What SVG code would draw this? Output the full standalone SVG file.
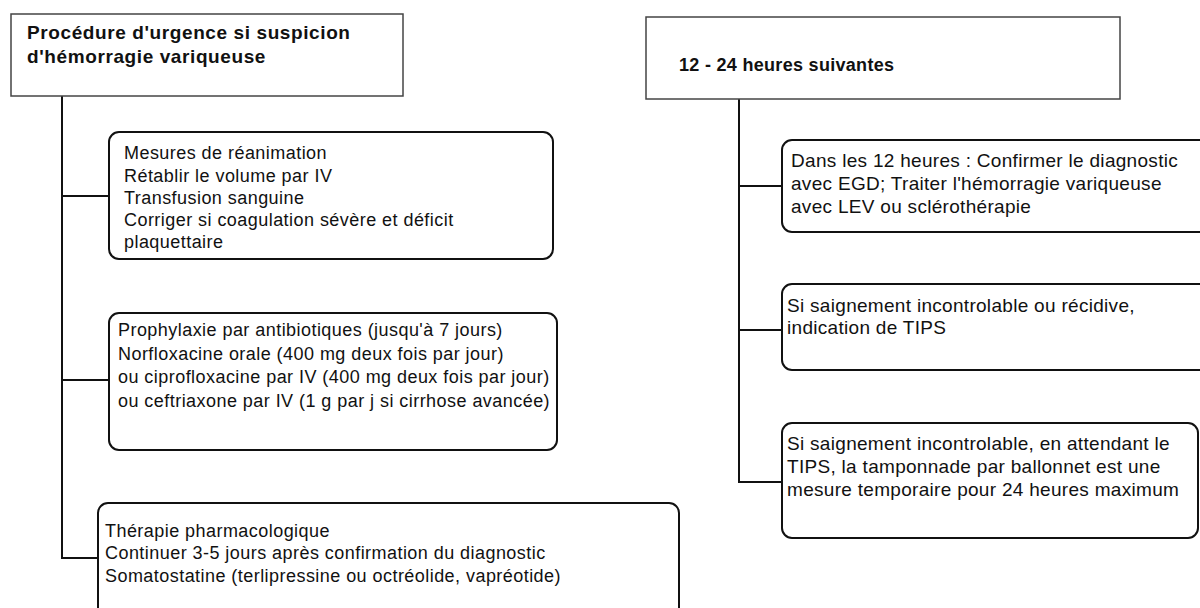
<svg xmlns="http://www.w3.org/2000/svg" width="1200" height="608" viewBox="0 0 1200 608">
<style>
.hdr{fill:#fff;stroke:#444;stroke-width:1.5}
.box{fill:#fff;stroke:#111;stroke-width:2}
.ht{font-family:"Liberation Sans",Arial,sans-serif;font-weight:bold;fill:#111}
.t{font-family:"Liberation Sans",Arial,sans-serif;font-size:18px;letter-spacing:0.45px;fill:#111}
.tr{font-family:"Liberation Sans",Arial,sans-serif;font-size:19px;letter-spacing:0.3px;fill:#111}
.c{fill:none;stroke:#111;stroke-width:2}
</style>
<rect width="1200" height="608" fill="#fff"/>
<g id="connectors">
<polyline class="c" points="62,96 62,558 98,558"/>
<line class="c" x1="62" y1="196" x2="109" y2="196"/>
<line class="c" x1="62" y1="380" x2="109" y2="380"/>
<polyline class="c" points="739,99 739,482 782,482"/>
<line class="c" x1="739" y1="186" x2="782" y2="186"/>
<line class="c" x1="739" y1="330" x2="782" y2="330"/>
</g>
<g id="header-left">
<rect class="hdr" x="11" y="14" width="392" height="82"/>
<text class="ht" font-size="19" letter-spacing="0.6" x="27" y="39">Procédure d'urgence si suspicion</text>
<text class="ht" font-size="19" letter-spacing="0.6" x="27" y="63">d'hémorragie variqueuse</text>
</g>
<g id="box-reanimation">
<rect class="box" x="109" y="132" width="444" height="127" rx="10"/>
<text class="t" x="124" y="159">Mesures de réanimation</text>
<text class="t" x="124" y="181.5">Rétablir le volume par IV</text>
<text class="t" x="124" y="203.5">Transfusion sanguine</text>
<text class="t" x="124" y="226">Corriger si coagulation sévère et déficit</text>
<text class="t" x="124" y="248">plaquettaire</text>
</g>
<g id="box-prophylaxie">
<rect class="box" x="109" y="313" width="448" height="137" rx="10"/>
<text class="t" x="118" y="336">Prophylaxie par antibiotiques (jusqu'à 7 jours)</text>
<text class="t" x="118" y="359.5">Norfloxacine orale (400 mg deux fois par jour)</text>
<text class="t" x="118" y="383">ou ciprofloxacine par IV (400 mg deux fois par jour)</text>
<text class="t" x="118" y="406.5">ou ceftriaxone par IV (1 g par j si cirrhose avancée)</text>
</g>
<g id="box-therapie">
<rect class="box" x="98" y="503" width="581" height="130" rx="10"/>
<text class="t" x="105" y="537">Thérapie pharmacologique</text>
<text class="t" x="105" y="559">Continuer 3-5 jours après confirmation du diagnostic</text>
<text class="t" x="105" y="581.5">Somatostatine (terlipressine ou octréolide, vapréotide)</text>
</g>
<g id="header-right">
<rect class="hdr" x="646" y="17" width="474" height="82"/>
<text class="ht" font-size="18" letter-spacing="0.3" x="679" y="71">12 - 24 heures suivantes</text>
</g>
<g id="box-egd">
<rect class="box" x="782" y="140" width="430" height="92" rx="10"/>
<text class="tr" x="791" y="167">Dans les 12 heures : Confirmer le diagnostic</text>
<text class="tr" x="791" y="190">avec EGD; Traiter l'hémorragie variqueuse</text>
<text class="tr" x="791" y="212.5">avec LEV ou sclérothérapie</text>
</g>
<g id="box-tips">
<rect class="box" x="782" y="284" width="430" height="86" rx="10"/>
<text class="tr" x="787" y="311.5">Si saignement incontrolable ou récidive,</text>
<text class="tr" x="787" y="334">indication de TIPS</text>
</g>
<g id="box-tamponnade">
<rect class="box" x="782" y="423" width="416" height="115" rx="10"/>
<text class="tr" x="787" y="450">Si saignement incontrolable, en attendant le</text>
<text class="tr" x="787" y="472.5">TIPS, la tamponnade par ballonnet est une</text>
<text class="tr" x="787" y="495.5">mesure temporaire pour 24 heures maximum</text>
</g>
</svg>
